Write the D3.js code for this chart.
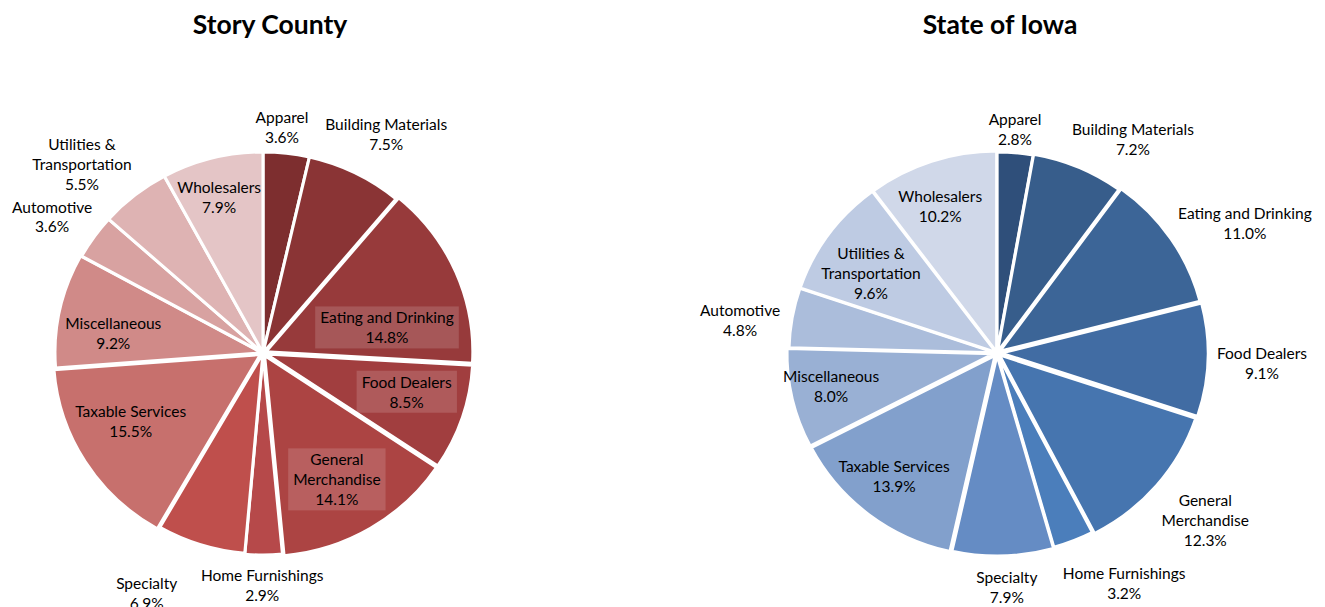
<!DOCTYPE html>
<html>
<head>
<meta charset="utf-8">
<script src="https://cdn.jsdelivr.net/npm/d3@7"></script>
<style>
  body { margin: 0; background: #fff; }
  svg text { font-family: Lato, "Liberation Sans", sans-serif; fill: #000; }
</style>
</head>
<body>
<div id="chart"></div>
<script>
'use strict';

// share of taxable sales by category (%)
var categories = ["Apparel", "Building Materials", "Eating and Drinking", "Food Dealers",
    "General Merchandise", "Home Furnishings", "Specialty", "Taxable Services",
    "Miscellaneous", "Automotive", "Utilities & Transportation", "Wholesalers"];
var storyValues = [3.6, 7.5, 14.8, 8.5, 14.1, 2.9, 6.9, 15.5, 9.2, 3.6, 5.5, 7.9];
var iowaValues  = [2.8, 7.2, 11.0, 9.1, 12.3, 3.2, 7.9, 13.9, 8.0, 4.8, 9.6, 10.2];
var titles = ["Story County", "State of Iowa"];

var storyColors = ["#7D2E2F", "#8A3435", "#973A3B", "#A13E3F", "#AC4443", "#B6494A",
    "#BF4F4C", "#C7706D", "#D08A88", "#D8A2A1", "#DEB3B3", "#E4C5C6"];
var iowaColors = ["#2F4F7A", "#375D8B", "#3C6597", "#416CA3", "#4675AF", "#4B7EBB",
    "#658CC4", "#82A0CC", "#99B0D4", "#ABBDDB", "#BECBE3", "#D0D8E9"];

// label placement: [angle in degrees from top, distance as a share of 204px]
var storyLabelAt = [[4.8, 1.11], [29.4, 1.23], [78.6, 0.62], [105.3, 0.73], [149.8, 0.72],
    [180.2, 1.14], [205.8, 1.31], [242.7, 0.73], [277.3, 0.74], [302.8, 1.23], [316.1, 1.28], [344.2, 0.79]];
var iowaLabelAt = [[4.6, 1.10], [32.5, 1.24], [62.5, 1.37], [92.2, 1.30], [128.8, 1.31],
    [151.1, 1.29], [177.6, 1.15], [219.7, 0.79], [258.4, 0.83], [277.3, 1.27], [302.2, 0.73], [338.8, 0.77]];

var lineBreaks = {
    "General Merchandise": ["General", "Merchandise"],
    "Utilities & Transportation": ["Utilities &", "Transportation"]
};

var width = 1325, height = 607;
var svg = d3.select("#chart").append("svg")
    .attr("width", width)
    .attr("height", height);

drawPie({
    title: titles[0], titleX: 270,
    cx: 263, cy: 353, radius: 201, stretch: 1.03,
    values: storyValues, colors: storyColors, labelAt: storyLabelAt,
    explode: [0, 0, 3, 3, 3, 1, 0, 3, 1, 0, 0, 0],
    boxed: [false, false, true, true, true, false, false, false, false, false, false, false]
});

drawPie({
    title: titles[1], titleX: 1000,
    cx: 997, cy: 353, radius: 201, stretch: 1.03,
    values: iowaValues, colors: iowaColors, labelAt: iowaLabelAt,
    explode: [0, 1, 3, 4, 3, 1, 2, 3, 3, 1, 1, 1],
    boxed: []
});

function drawPie(opt) {

    svg.append("text")
        .attr("x", opt.titleX)
        .attr("y", 34)
        .attr("text-anchor", "middle")
        .style("font-size", "26.5px")
        .style("font-weight", "bold")
        .text(opt.title);

    var data = categories.map(function (c, i) {
        return { name: c, value: opt.values[i], index: i };
    });

    var pie = d3.pie()
        .sort(null)
        .value(function (d) { return d.value; })(data);

    var arc = d3.arc()
        .innerRadius(0)
        .outerRadius(opt.radius);

    var g = svg.append("g")
        .attr("transform", "translate(" + opt.cx + "," + opt.cy + ")");

    g.append("g")
        .attr("transform", "scale(" + opt.stretch + ",1)")
        .selectAll("path.slice")
        .data(pie)
        .enter().append("path")
        .attr("class", "slice")
        .attr("d", arc)
        .attr("transform", function (d) {
            var a = (d.startAngle + d.endAngle) / 2;
            var e = opt.explode[d.index] || 0;
            return "translate(" + (Math.sin(a) * e) + "," + (-Math.cos(a) * e) + ")";
        })
        .style("fill", function (d) { return opt.colors[d.index]; })
        .style("stroke", "#fff")
        .style("stroke-width", 3)
        .style("stroke-linejoin", "round");

    var lineHeight = 20;
    var labelBase = 204;

    var labels = g.selectAll("g.label")
        .data(pie)
        .enter().append("g")
        .attr("class", "label")
        .attr("transform", function (d) {
            var at = opt.labelAt[d.index];
            var a = at[0] * Math.PI / 180;
            var dist = at[1] * labelBase;
            return "translate(" + (Math.sin(a) * dist) + "," + (-Math.cos(a) * dist) + ")";
        });

    labels.each(function (d) {
        var lines = (lineBreaks[d.data.name] || [d.data.name]).concat([d.data.value.toFixed(1) + "%"]);
        var sel = d3.select(this);
        var top = -(lines.length - 1) * lineHeight / 2;
        var txt = sel.append("text")
            .attr("text-anchor", "middle")
            .style("font-size", "15.5px");
        lines.forEach(function (l, k) {
            txt.append("tspan")
                .attr("x", 0)
                .attr("y", top + k * lineHeight)
                .attr("dy", "0.35em")
                .text(l);
        });
        if (opt.boxed[d.index]) {
            var bb = txt.node().getBBox();
            sel.insert("rect", "text")
                .attr("x", bb.x - 5)
                .attr("y", bb.y - 2)
                .attr("width", bb.width + 10)
                .attr("height", bb.height + 4)
                .style("fill", "#fff")
                .style("fill-opacity", 0.15);
        }
    });
}
</script>
</body>
</html>
